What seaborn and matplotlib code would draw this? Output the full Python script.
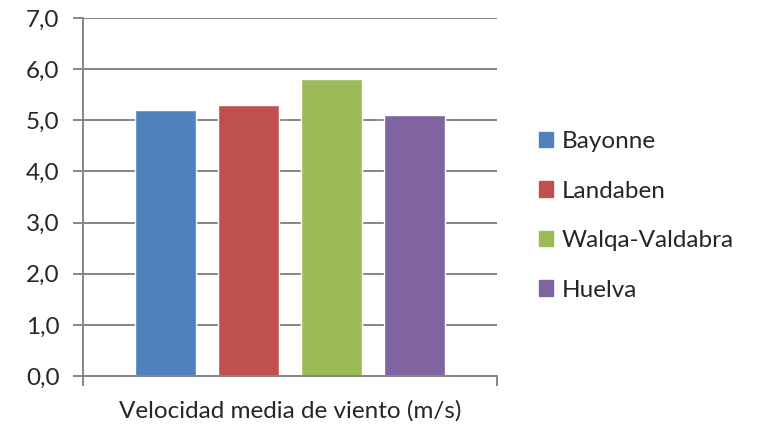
import matplotlib
matplotlib.use("Agg")
import matplotlib.pyplot as plt
import seaborn as sns
import pandas as pd

stations = ["Bayonne", "Landaben", "Walqa-Valdabra", "Huelva"]
wind_speed = [5.2, 5.3, 5.8, 5.1]
category = ["Velocidad media de viento (m/s)"]
y_ticks = [0, 1, 2, 3, 4, 5, 6, 7]
colors = ["#4F81BD", "#C0504D", "#9BBB59", "#8064A2"]

sns.set_theme(style="white")
plt.rcParams["font.family"] = ["Lato", "DejaVu Sans"]

df = pd.DataFrame({
    "cat": category * len(stations),
    "station": stations,
    "value": wind_speed,
})

fig = plt.figure(figsize=(7.6, 4.33), dpi=100)
ax = fig.add_axes([83 / 760, 1 - 376 / 433, 414 / 760, 358 / 433])

sns.barplot(data=df, x="cat", y="value", hue="station", hue_order=stations,
            palette=colors, width=0.8, gap=0.265, saturation=1,
            legend=False, ax=ax)

ax.set_xlim(-0.5, 0.5)
ax.set_ylim(0, 7)
ax.set_yticks(y_ticks)
ax.set_yticklabels([f"{v:.1f}".replace(".", ",") for v in y_ticks], fontsize=17.5)
ax.yaxis.grid(True, color="#868686", linewidth=1.4)
ax.set_axisbelow(True)
ax.set_xlabel("")
ax.set_ylabel("")

grid_c = "#868686"
for side in ["top", "right"]:
    ax.spines[side].set_visible(False)
for side in ["left", "bottom"]:
    ax.spines[side].set_color(grid_c)
    ax.spines[side].set_linewidth(1.4)

ax.tick_params(axis="y", which="major", direction="out", length=7,
               width=1.4, color=grid_c, pad=10, left=True)
ax.tick_params(axis="x", which="major", length=0, pad=17, labelsize=17.5)
ax.set_xticks([-0.5, 0.5], minor=True)
ax.tick_params(axis="x", which="minor", direction="out", length=7,
               width=1.4, color=grid_c, bottom=True)

handles = [plt.Rectangle((0, 0), 1, 1, color=c) for c in colors]
fig.legend(handles, stations, loc="center left",
           bbox_to_anchor=(529 / 760, 1 - 216 / 433), frameon=False,
           fontsize=17.5, handlelength=0.6, handleheight=0.6,
           handletextpad=0.35, labelspacing=1.17, borderaxespad=0)

fig.savefig("out.png", dpi=100, facecolor="white")
